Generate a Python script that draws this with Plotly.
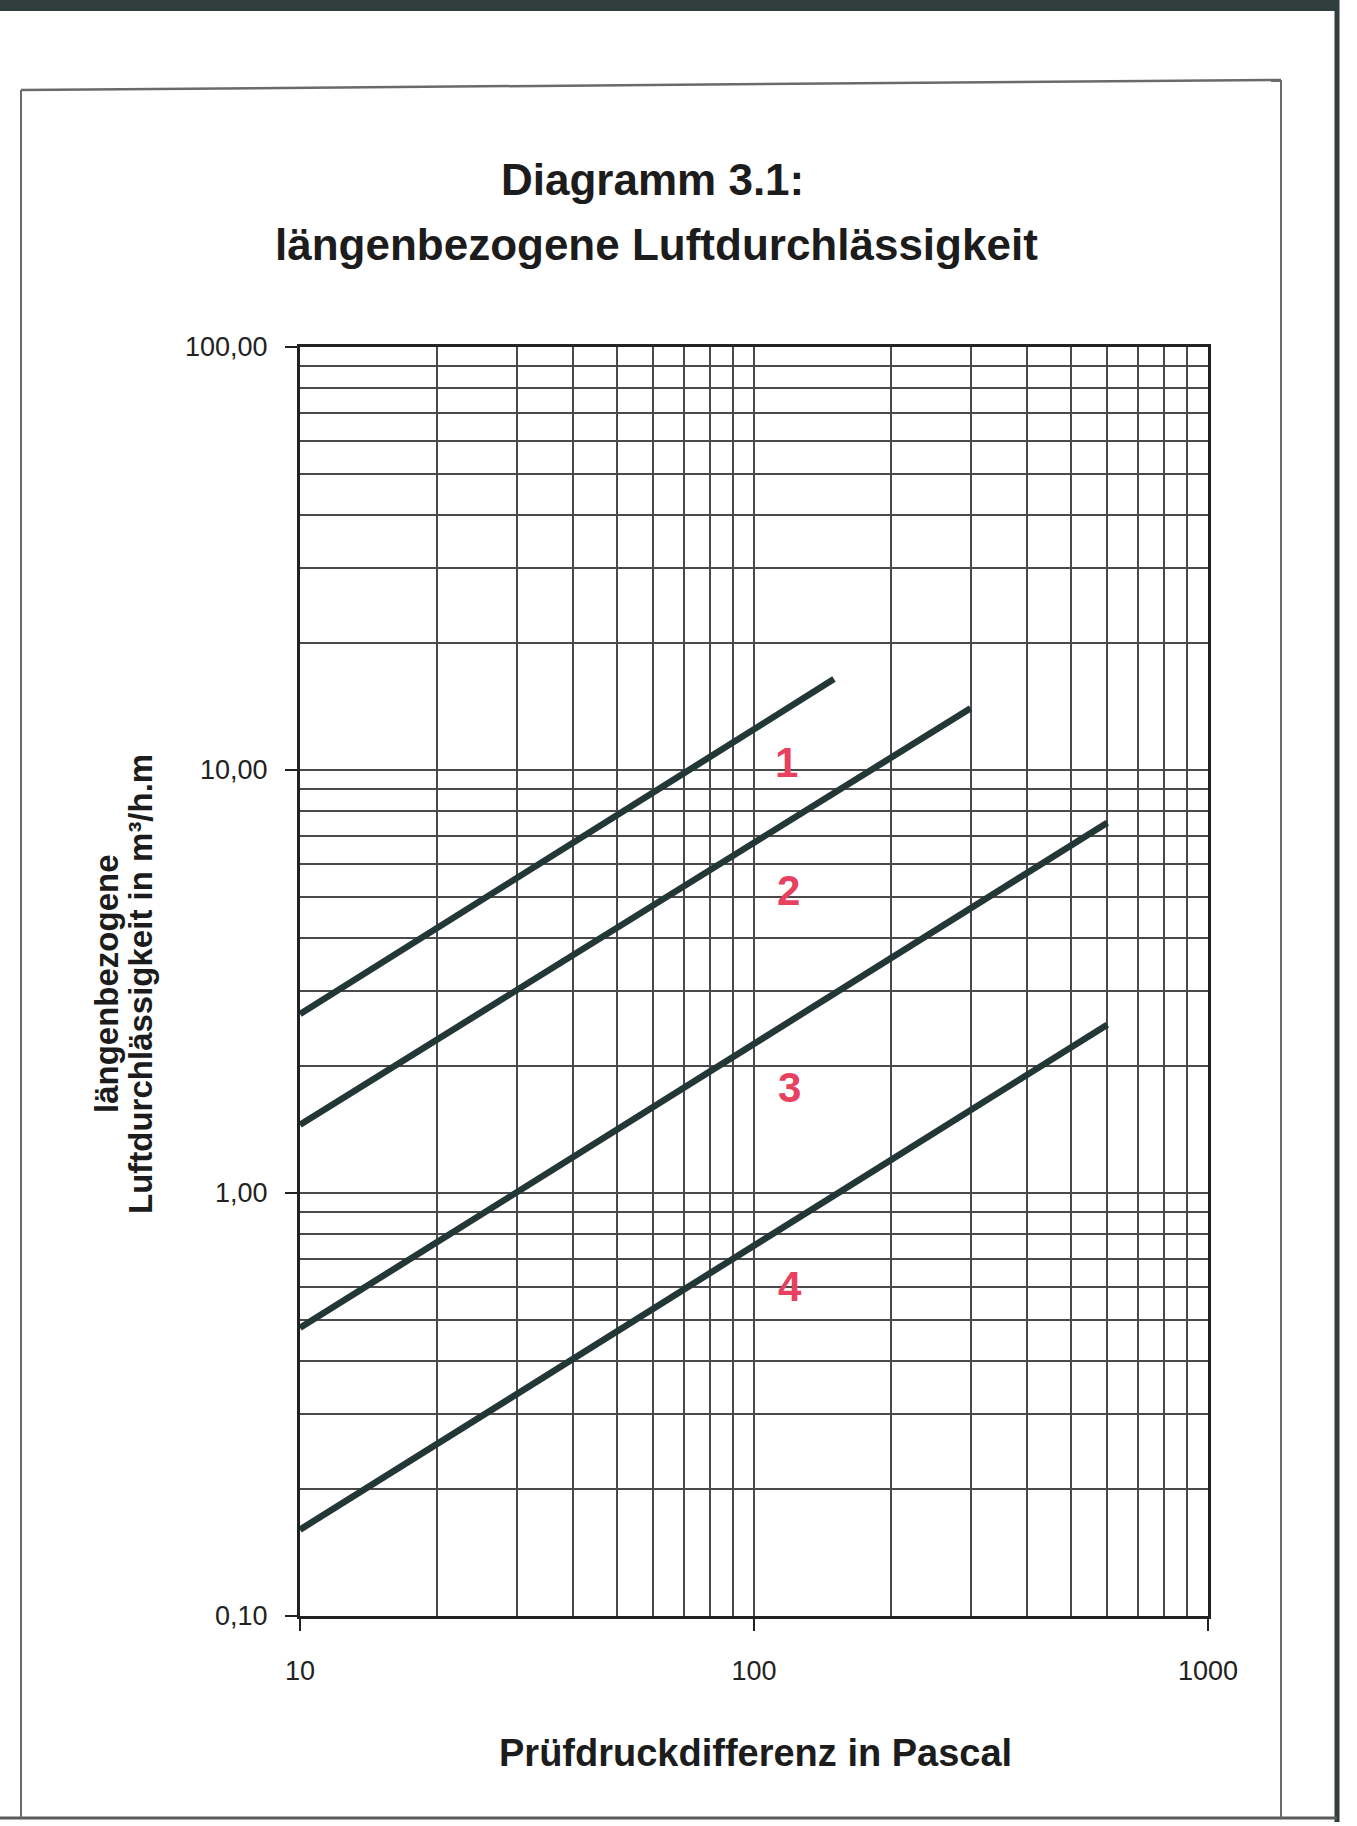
import numpy as np
import plotly.graph_objects as go

# ---- Data ----
pressure_1 = [10, 150]
flow_1 = [2.65, 16.4]
pressure_2 = [10, 300]
flow_2 = [1.45, 14.0]
pressure_3 = [10, 600]
flow_3 = [0.48, 7.5]
pressure_4 = [10, 600]
flow_4 = [0.16, 2.5]

class_labels = ["1", "2", "3", "4"]
label_x = [118, 119, 120, 120]
label_y = [10.4, 5.2, 1.78, 0.60]

x_tickvals = [10, 100, 1000]
x_ticktext = ["10", "100", "1000"]
y_tickvals = [0.1, 1, 10, 100]
y_ticktext = ["0,10", "1,00", "10,00", "100,00"]
x_minor = [20, 30, 40, 50, 60, 70, 80, 90, 200, 300, 400, 500, 600, 700, 800, 900]
y_minor = [0.2, 0.3, 0.4, 0.5, 0.6, 0.7, 0.8, 0.9, 2, 3, 4, 5, 6, 7, 8, 9,
           20, 30, 40, 50, 60, 70, 80, 90]

title_1 = "Diagramm 3.1:"
title_2 = "längenbezogene Luftdurchlässigkeit"
x_title = "Prüfdruckdifferenz in Pascal"
y_title_1 = "längenbezogene"
y_title_2 = "Luftdurchlässigkeit in m³/h.m"

# ---- Layout geometry (pixels) ----
W, H = 1357, 1822
L, R, T, B = 300, 1208, 347, 1616


def px(x):
    return (x - L) / (R - L)


def py(y):
    return (B - y) / (B - T)


FONT = "Liberation Sans, Arial, Helvetica, sans-serif"
LINE_COL = "#233736"
GRID_COL = "#4a4a4a"
AXIS_COL = "#222222"
TEXT_COL = "#1c1c1c"
RED = "#e8405f"

fig = go.Figure()
for xs, ys in [(pressure_1, flow_1), (pressure_2, flow_2),
               (pressure_3, flow_3), (pressure_4, flow_4)]:
    fig.add_trace(go.Scatter(x=xs, y=ys, mode="lines",
                             line=dict(color=LINE_COL, width=6.5),
                             showlegend=False, hoverinfo="skip"))

annotations = []
for t, lx, ly in zip(class_labels, label_x, label_y):
    annotations.append(dict(x=np.log10(lx), y=np.log10(ly), xref="x", yref="y",
                            text=t, showarrow=False,
                            font=dict(family=FONT, size=42, color=RED, weight="bold"),
                            xanchor="center", yanchor="middle"))

annotations += [
    dict(x=px(652), y=py(180), xref="paper", yref="paper", text=title_1,
         showarrow=False, xanchor="center", yanchor="middle",
         font=dict(family=FONT, size=44, color=TEXT_COL, weight="bold")),
    dict(x=px(656), y=py(244), xref="paper", yref="paper", text=title_2,
         showarrow=False, xanchor="center", yanchor="middle",
         font=dict(family=FONT, size=44, color=TEXT_COL, weight="bold")),
    dict(x=px(755), y=py(1753), xref="paper", yref="paper", text=x_title,
         showarrow=False, xanchor="center", yanchor="middle",
         font=dict(family=FONT, size=38, color=TEXT_COL, weight="bold")),
    dict(x=px(107), y=py(984), xref="paper", yref="paper", text=y_title_1,
         showarrow=False, xanchor="center", yanchor="middle", textangle=-90,
         font=dict(family=FONT, size=33, color=TEXT_COL, weight="bold")),
    dict(x=px(141), y=py(984), xref="paper", yref="paper", text=y_title_2,
         showarrow=False, xanchor="center", yanchor="middle", textangle=-90,
         font=dict(family=FONT, size=33, color=TEXT_COL, weight="bold")),
]

shapes = [
    # outer page frame
    dict(type="rect", xref="paper", yref="paper", x0=px(0), x1=px(1338),
         y0=py(0), y1=py(11), fillcolor="#2f3d3c", line=dict(width=0), layer="above"),
    dict(type="line", xref="paper", yref="paper", x0=px(1337), x1=px(1337),
         y0=py(0), y1=py(1822), line=dict(color="#2f3d3c", width=5), layer="above"),
    dict(type="line", xref="paper", yref="paper", x0=px(0), x1=px(1337),
         y0=py(1818), y1=py(1818), line=dict(color="#5a5a5a", width=3), layer="above"),
    # inner chart frame
    dict(type="line", xref="paper", yref="paper", x0=px(21), x1=px(1281),
         y0=py(90), y1=py(80), line=dict(color="#6a6a6a", width=2.5), layer="above"),
    dict(type="line", xref="paper", yref="paper", x0=px(21), x1=px(21),
         y0=py(90), y1=py(1818), line=dict(color="#6a6a6a", width=2), layer="above"),
    dict(type="line", xref="paper", yref="paper", x0=px(1281), x1=px(1281),
         y0=py(80), y1=py(1818), line=dict(color="#6a6a6a", width=2), layer="above"),
]

axis_common = dict(
    type="log", showline=True, linewidth=3, linecolor=AXIS_COL, mirror=True,
    showgrid=True, gridcolor=GRID_COL, gridwidth=1.6, zeroline=False,
    ticks="outside", ticklen=12, tickwidth=2, tickcolor=AXIS_COL,
    tickfont=dict(family=FONT, size=27, color="#222222"),
)

fig.update_layout(
    width=W, height=H, autosize=False,
    margin=dict(l=L, r=W - R, t=T, b=H - B, pad=0),
    paper_bgcolor="white", plot_bgcolor="white",
    showlegend=False,
    xaxis=dict(range=[1, 3], tickvals=x_tickvals, ticktext=x_ticktext,
               ticklabelstandoff=17,
               minor=dict(tickvals=x_minor, showgrid=True, gridcolor=GRID_COL,
                          gridwidth=1.6, ticks=""),
               **axis_common),
    yaxis=dict(range=[-1, 2], tickvals=y_tickvals, ticktext=y_ticktext,
               ticklabelstandoff=12,
               minor=dict(tickvals=y_minor, showgrid=True, gridcolor=GRID_COL,
                          gridwidth=1.6, ticks=""),
               **axis_common),
    annotations=annotations,
    shapes=shapes,
)

fig.write_html("out.html",
               config={"displayModeBar": False},
               post_script="document.body.style.margin='0';document.body.style.overflow='hidden';")
